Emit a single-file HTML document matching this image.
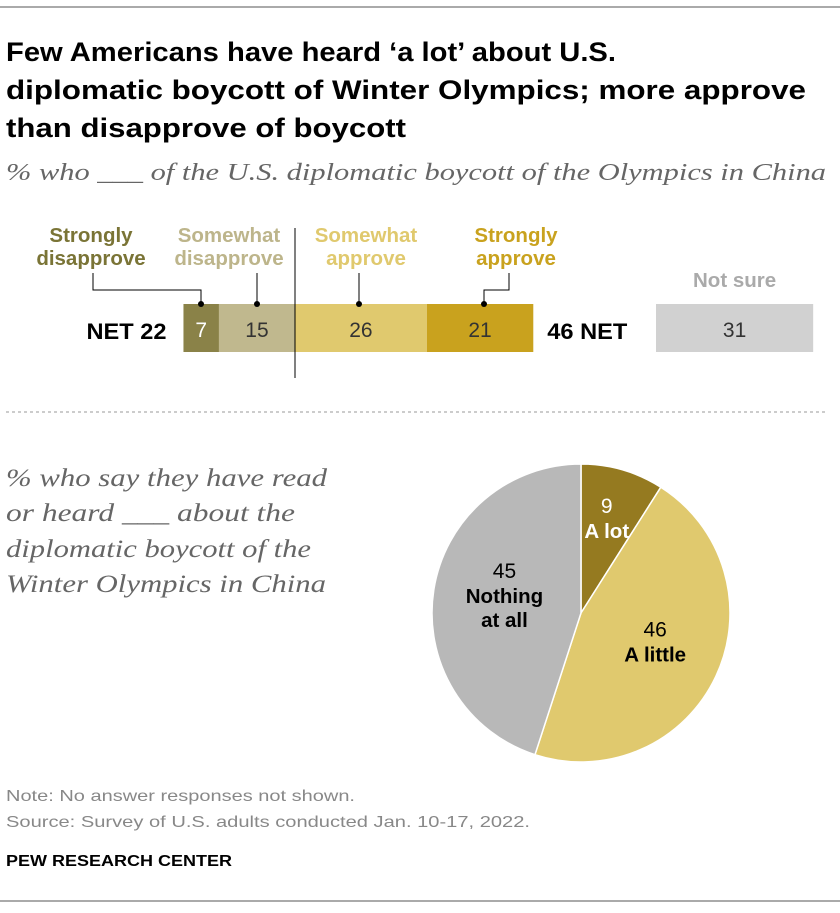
<!DOCTYPE html>
<html><head><meta charset="utf-8"><style>
body{margin:0;background:#fff;width:840px;height:908px;overflow:hidden;font-family:"Liberation Sans",sans-serif}
</style></head><body>
<svg width="840" height="908" xmlns="http://www.w3.org/2000/svg" id="chart">
<line x1="0" y1="7" x2="840" y2="7" stroke="#555" stroke-width="1"/>
<g font-size="27" font-weight="bold" fill="#000" lengthAdjust="spacingAndGlyphs">
<text x="6" y="61" textLength="610" lengthAdjust="spacingAndGlyphs">Few Americans have heard ‘a lot’ about U.S.</text>
<text x="6" y="99" textLength="800" lengthAdjust="spacingAndGlyphs">diplomatic boycott of Winter Olympics; more approve</text>
<text x="6" y="137" textLength="400" lengthAdjust="spacingAndGlyphs">than disapprove of boycott</text>
</g>
<text x="6" y="180" textLength="820" lengthAdjust="spacingAndGlyphs" font-family="Liberation Serif,serif" font-style="italic" font-size="24" fill="#666">% who ___ of the U.S. diplomatic boycott of the Olympics in China</text>
<g id="bars"></g>
<line x1="6" y1="412" x2="828" y2="412" stroke="#999" stroke-dasharray="3,3"/>
<g font-family="Liberation Serif,serif" font-style="italic" font-size="25" fill="#666">
<text x="6" y="486" textLength="321" lengthAdjust="spacingAndGlyphs">% who say they have read</text>
<text x="6" y="521" textLength="289" lengthAdjust="spacingAndGlyphs">or heard ___ about the</text>
<text x="6" y="557" textLength="305" lengthAdjust="spacingAndGlyphs">diplomatic boycott of the</text>
<text x="6" y="592" textLength="320" lengthAdjust="spacingAndGlyphs">Winter Olympics in China</text>
</g>
<g id="pie"></g>
<g font-size="16" fill="#888">
<text x="6" y="801" textLength="349" lengthAdjust="spacingAndGlyphs">Note: No answer responses not shown.</text>
<text x="6" y="827" textLength="524" lengthAdjust="spacingAndGlyphs">Source: Survey of U.S. adults conducted Jan. 10-17, 2022.</text>
</g>
<text x="6" y="866" textLength="226" lengthAdjust="spacingAndGlyphs" font-size="16" font-weight="bold" fill="#000">PEW RESEARCH CENTER</text>
<line x1="0" y1="901" x2="840" y2="901" stroke="#555" stroke-width="1"/>
</svg>
<script>
const barCats=["Strongly disapprove","Somewhat disapprove","Somewhat approve","Strongly approve"];
const barVals=[7,15,26,21];
const notSure=[31];
const nets=[22,46];
const pieCats=["A lot","A little","Nothing at all"];
const pieVals=[9,46,45];

const NS="http://www.w3.org/2000/svg";
function mk(t,a,p){const e=document.createElementNS(NS,t);for(const k in a)e.setAttribute(k,a[k]);p.appendChild(e);return e;}
const bars=document.getElementById('bars');
const sc=5.07, mid=295, by=304, bh=48;
const x=v=>mid+v*sc;
const cols=["#8a8248","#c0b88e","#e0c96e","#c9a21e"];
const tcol=["#fff","#333","#333","#333"];
const lcol=["#7a7436","#bdb58b","#e0c96e","#c9a21e"];
let starts=[-barVals[0]-barVals[1],-barVals[1],0,barVals[2]];
barVals.forEach((v,i)=>{
 const r=mk('rect',{x:x(starts[i]),y:by,width:v*sc,height:bh,fill:cols[i]},bars);
 
 
 const cx=x(starts[i]+v/2);
 const t=mk('text',{x:cx,y:by+33,'text-anchor':'middle','font-size':21,fill:tcol[i]},bars);t.textContent=v;
 
 
});
const lx=[91,229,366,516];
barCats.forEach((c,i)=>{
 const w=c.split(' ');
 const t=mk('text',{x:lx[i],'text-anchor':'middle','font-size':20.5,'font-weight':'bold',fill:lcol[i]},bars);
 
 
 mk('tspan',{x:lx[i],y:242},t).textContent=w[0];
 mk('tspan',{x:lx[i],y:265},t).textContent=w[1];
});
const lp=[[[93,273],[93,290],[201,290],[201,304]],[[257,273],[257,304]],[[359,273],[359,304]],[[509,273],[509,290],[484,290],[484,304]]];
lp.forEach((pts,i)=>{
 const pl=mk('polyline',{points:pts.map(p=>p.join(',')).join(' '),fill:'none',stroke:'#000','stroke-width':1},bars);
 
 
 const e=pts[pts.length-1];
 const d=mk('circle',{cx:e[0],cy:e[1],r:3,fill:'#000'},bars);
 
 
});
const ml=mk('line',{x1:mid,y1:228,x2:mid,y2:378,stroke:'#000'},bars);


const n1=mk('text',{x:x(starts[0])-17,y:by+35,'text-anchor':'end','font-size':22,'font-weight':'bold',textLength:80,lengthAdjust:'spacingAndGlyphs'},bars);
n1.textContent='NET  '+nets[0];


const n2=mk('text',{x:x(barVals[2]+barVals[3])+14,y:by+35,'font-size':22,'font-weight':'bold',textLength:80,lengthAdjust:'spacingAndGlyphs'},bars);
n2.textContent=nets[1]+'  NET';


const nsx=656;
const nr=mk('rect',{x:nsx,y:by,width:notSure[0]*sc,height:bh,fill:'#d1d1d1'},bars);


const nt=mk('text',{x:nsx+notSure[0]*sc/2,y:by+33,'text-anchor':'middle','font-size':21,fill:'#333'},bars);nt.textContent=notSure[0];


const nl=mk('text',{x:nsx+notSure[0]*sc/2,y:287,'text-anchor':'middle','font-size':20.5,'font-weight':'bold',fill:'#aaa'},bars);nl.textContent='Not sure';



const pie=document.getElementById('pie');
const pcx=581,pcy=613,R=149;
const pcols=["#957a20","#e0c96e","#b8b8b8"];
const tot=pieVals.reduce((a,b)=>a+b,0);
let a0=0;
const lab=[[0.62,["A lot"],"#fff"],[0.55,["A little"],"#000"],[0.52,["Nothing","at all"],"#000"]];
pieVals.forEach((v,i)=>{
 const a1=a0+v/tot*2*Math.PI;
 const p=(a)=>[pcx+R*Math.sin(a),pcy-R*Math.cos(a)];
 const [sx,sy]=p(a0),[ex,ey]=p(a1);
 const path=mk('path',{d:`M${pcx},${pcy}L${sx},${sy}A${R},${R} 0 ${a1-a0>Math.PI?1:0} 1 ${ex},${ey}Z`,fill:pcols[i],stroke:'#fff','stroke-width':1.5},pie);
 
 
 const am=(a0+a1)/2, rr=R*lab[i][0];
 const lx2=pcx+rr*Math.sin(am), ly=pcy-rr*Math.cos(am);
 const lines=lab[i][1];
 const top=ly-(lines.length*23)/2;
 const vt=mk('text',{x:lx2,y:top,'text-anchor':'middle','font-size':21,fill:lab[i][2]},pie);vt.textContent=v;
 
 
 lines.forEach((l,j)=>{
  const t=mk('text',{x:lx2,y:top+25+j*24,'text-anchor':'middle','font-size':20.5,'font-weight':'bold',fill:lab[i][2]},pie);t.textContent=l;
  
  
 });
 a0=a1;
});
</script>
</body></html>
